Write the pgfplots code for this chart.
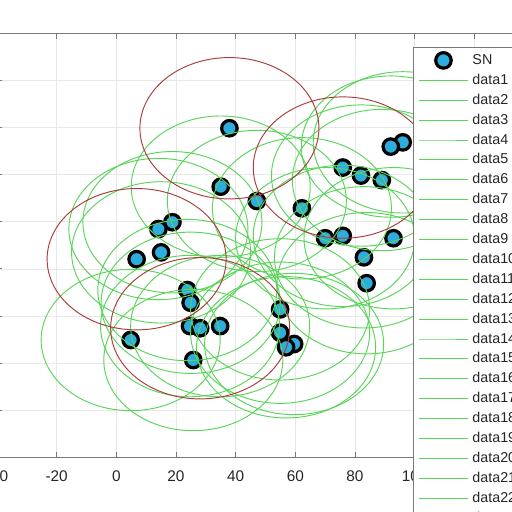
\documentclass[border=0pt]{standalone}
\usepackage{pgfplots}
\usepackage{pgfplotstable}
\pgfplotsset{compat=1.18}
\usepackage{fontspec}
\setmainfont{Liberation Sans}
\definecolor{snblue}{RGB}{45,172,222}
\definecolor{covgreen}{RGB}{90,212,90}
\definecolor{chred}{RGB}{170,60,60}
\definecolor{axgray}{RGB}{120,120,120}
% sensing radius 30 drawn as an ellipse mark (axis scale: 2.983pt/unit in x, 2.3556pt/unit in y)
\pgfdeclareplotmark{cov}{\pgfpathellipse{\pgfpointorigin}{\pgfqpoint{89.5pt}{0pt}}{\pgfqpoint{0pt}{70.67pt}}\pgfusepathqstroke}

\pgfplotstableread{
x y
37.9 99.7
35.0 74.9
47.1 68.8
18.8 59.8
14.1 56.9
15.0 47.0
6.8 44.1
96.0 93.7
92.0 91.9
75.9 83.0
82.0 79.6
89.0 77.7
62.2 65.7
70.0 53.0
75.9 54.0
92.9 53.0
83.0 44.9
83.9 33.9
23.8 31.0
24.9 25.6
24.7 15.7
28.1 14.8
34.8 15.7
4.8 9.8
25.8 1.3
54.9 22.8
54.9 12.9
59.6 8.1
56.9 6.7
}\sn

\pgfplotstableread{
x y
35.0 74.9
47.1 68.8
18.8 59.8
14.1 56.9
15.0 47.0
96.0 93.7
92.0 91.9
82.0 79.6
89.0 77.7
62.2 65.7
70.0 53.0
75.9 54.0
92.9 53.0
83.0 44.9
83.9 33.9
23.8 31.0
24.9 25.6
24.7 15.7
34.8 15.7
4.8 9.8
25.8 1.3
54.9 22.8
54.9 12.9
59.6 8.1
56.9 6.7
}\greens

\pgfplotstableread{
x y
37.9 99.7
75.9 83.0
6.8 44.1
28.1 14.8
}\reds

\begin{document}
\begin{tikzpicture}
\useasboundingbox (0,0) rectangle (512pt,512pt);
\clip (0,0) rectangle (512pt,512pt);
\begin{axis}[
  at={(-3pt,54.7pt)}, anchor=south west,
  scale only axis, width=537pt, height=424pt,
  xmin=-40, xmax=140, ymin=-40, ymax=140,
  xtick={-40,-20,...,140}, ytick={-40,-20,...,140},
  grid=major, major grid style={color=black!9, line width=0.7pt},
  axis line style={color=axgray, line width=0.9pt},
  tick align=inside, major tick length=5.5pt,
  tick style={color=axgray, line width=0.9pt},
  tick label style={font=\fontsize{15.4}{18}\selectfont, text=black!85},
  xticklabel style={yshift=-10pt},
  /pgf/number format/assume math mode=true,
  legend cell align=left,
  legend image code/.code={\draw[mark repeat=2,mark phase=2,#1] plot coordinates {(0pt,0pt) (24.5pt,0pt) (49pt,0pt)};},
  legend style={at={(0.7747,0.9677)}, anchor=north west, draw=axgray, line width=0.9pt, fill=white,
    inner xsep=5pt, inner ysep=3pt, column sep=4pt, row sep=0pt,
    font=\fontsize{14.3}{16}\selectfont, text=black!85,
    nodes={inner xsep=0pt, inner ysep=3.95pt, text height=10pt, text depth=2pt}},
]
\addplot[only marks, mark=*, mark size=7.75pt, mark options={draw=black, fill=snblue, line width=3.2pt}] table {\sn};
\addlegendentry{SN}
\addplot[only marks, mark=cov, mark options={draw=covgreen, line width=0.95pt}, forget plot] table {\greens};
\addplot[only marks, mark=cov, mark options={draw=chred, line width=0.95pt}, forget plot] table {\reds};
\pgfplotsforeachungrouped \i in {1,...,29}{%
  \addlegendimage{covgreen, line width=1pt}
  \addlegendentryexpanded{data\i}
}
\end{axis}
\end{tikzpicture}
\end{document}
